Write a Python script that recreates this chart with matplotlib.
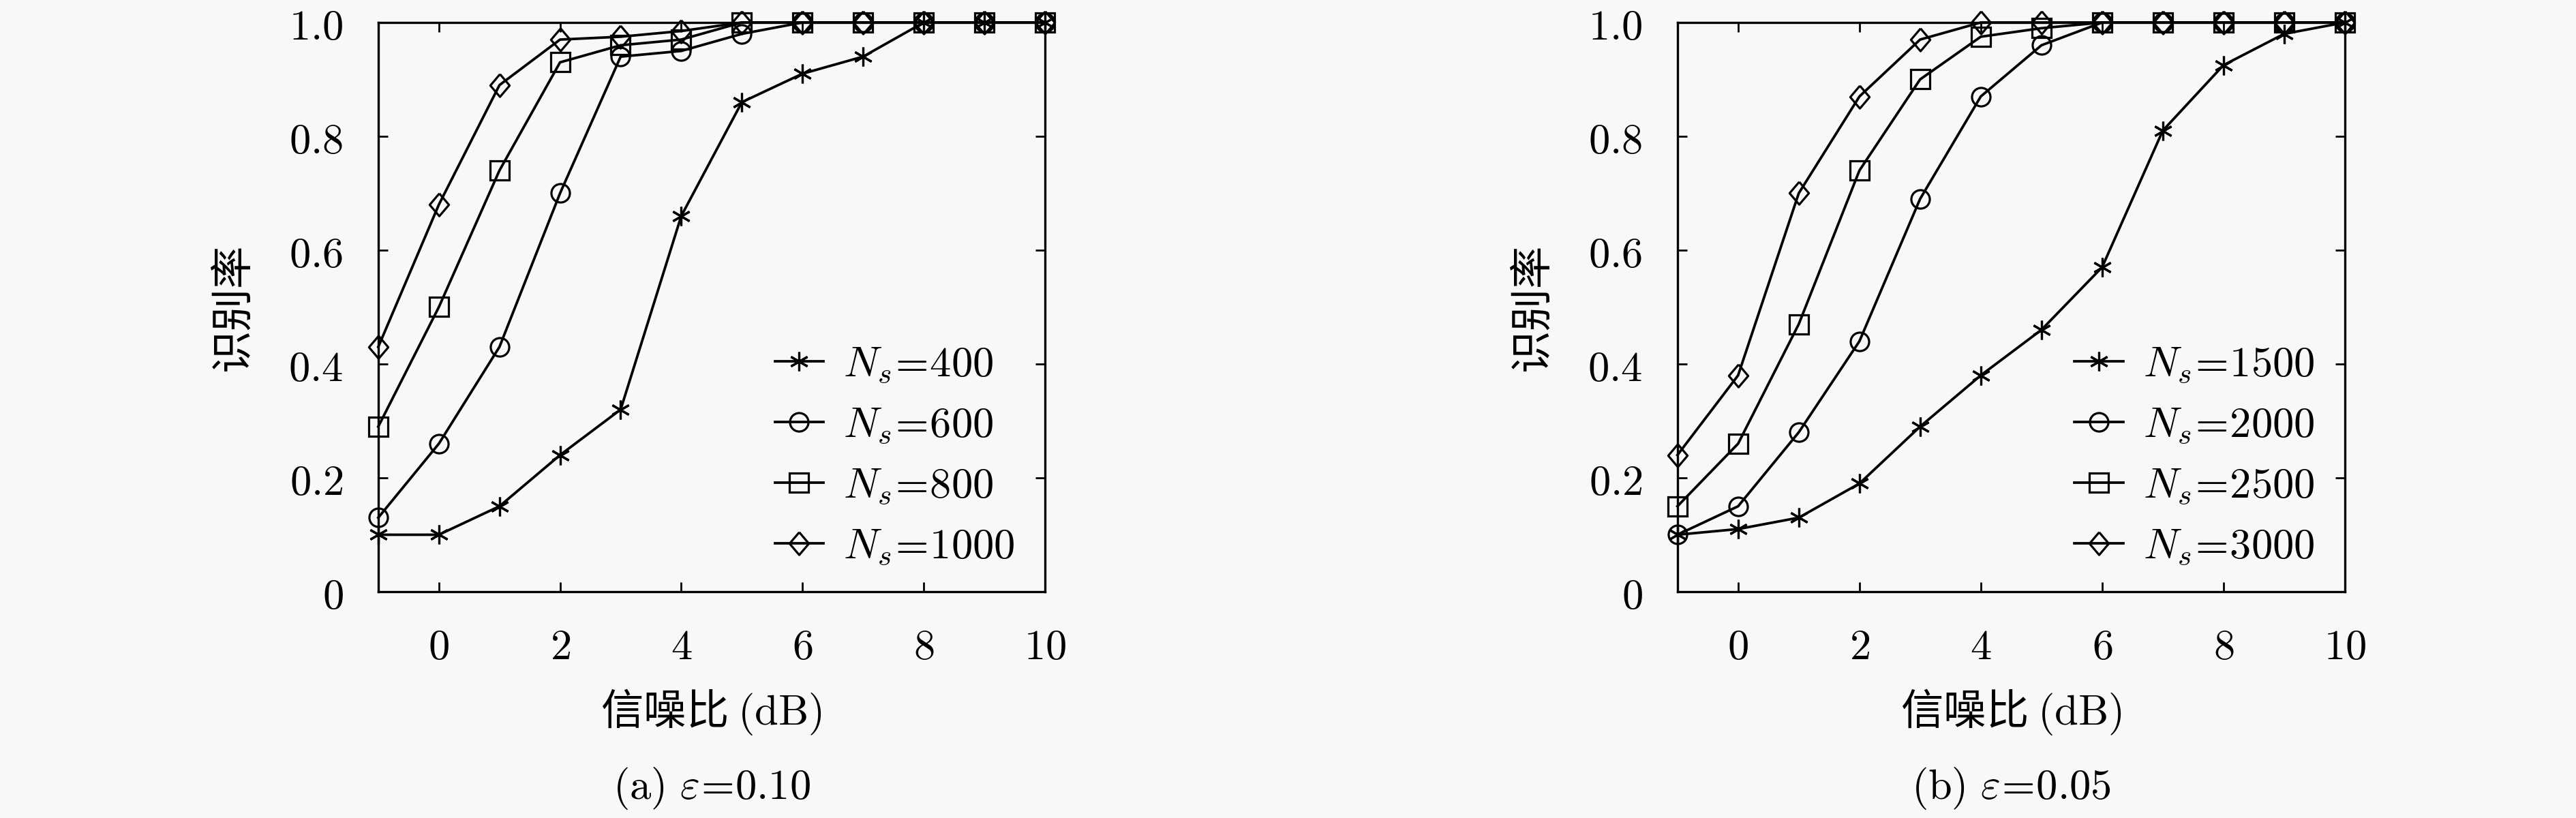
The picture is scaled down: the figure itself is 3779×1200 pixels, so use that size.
import numpy as np
import matplotlib
matplotlib.use('Agg')
import matplotlib.pyplot as plt

plt.rcParams['font.family'] = ['Noto Sans CJK SC', 'DejaVu Sans']
plt.rcParams['mathtext.fontset'] = 'cm'

# 信噪比 (dB)
snr = [-1, 0, 1, 2, 3, 4, 5, 6, 7, 8, 9, 10]

# (a) eps = 0.10
ns_a = [400, 600, 800, 1000]
rate_a_400 = [0.10, 0.10, 0.15, 0.24, 0.32, 0.66, 0.86, 0.91, 0.94, 1.0, 1.0, 1.0]
rate_a_600 = [0.13, 0.26, 0.43, 0.70, 0.94, 0.95, 0.98, 1.0, 1.0, 1.0, 1.0, 1.0]
rate_a_800 = [0.29, 0.50, 0.74, 0.93, 0.96, 0.97, 1.0, 1.0, 1.0, 1.0, 1.0, 1.0]
rate_a_1000 = [0.43, 0.68, 0.89, 0.97, 0.975, 0.985, 1.0, 1.0, 1.0, 1.0, 1.0, 1.0]

# (b) eps = 0.05
ns_b = [1500, 2000, 2500, 3000]
rate_b_1500 = [0.10, 0.11, 0.13, 0.19, 0.29, 0.38, 0.46, 0.57, 0.81, 0.925, 0.98, 1.0]
rate_b_2000 = [0.10, 0.15, 0.28, 0.44, 0.69, 0.87, 0.96, 1.0, 1.0, 1.0, 1.0, 1.0]
rate_b_2500 = [0.15, 0.26, 0.47, 0.74, 0.90, 0.975, 0.99, 1.0, 1.0, 1.0, 1.0, 1.0]
rate_b_3000 = [0.24, 0.38, 0.70, 0.87, 0.97, 1.0, 1.0, 1.0, 1.0, 1.0, 1.0, 1.0]

xticks = [0, 2, 4, 6, 8, 10]
yticks = [0, 0.2, 0.4, 0.6, 0.8, 1.0]
ytick_labels = ['0', '0.2', '0.4', '0.6', '0.8', '1.0']

captions = [r'$(\mathrm{a})\ \varepsilon\!=\!0.10$', r'$(\mathrm{b})\ \varepsilon\!=\!0.05$']

BG = '#f8f8f8'
FS = 45

# 标记样式：星号、圆、方块、菱形
diamond = [(0, 1), (0.85, 0), (0, -1), (-0.85, 0), (0, 1)]
markers = [((6, 2, 0), 20), ('o', 19.5), ('s', 19.5), (diamond, 24)]


def draw_panel(ax, series, ns_list, caption):
    for (mk, ms), ys, ns in zip(markers, series, ns_list):
        ax.plot(snr, ys, color='black', lw=2.7, marker=mk, ms=ms,
                mfc='none', mec='black', mew=2.3, clip_on=False,
                label=r'$N_s\!=\!%d$' % ns)

    ax.set_xlim(-1, 10)
    ax.set_ylim(0, 1.0)
    ax.set_xticks(xticks)
    ax.set_xticklabels([r'$%d$' % v for v in xticks])
    ax.set_yticks(yticks)
    ax.set_yticklabels([r'$%s$' % s for s in ytick_labels])
    ax.tick_params(axis='both', direction='in', length=10, width=2,
                   top=True, right=True, labelsize=FS)
    ax.tick_params(axis='x', pad=35)
    ax.tick_params(axis='y', pad=37)
    for sp in ax.spines.values():
        sp.set_linewidth(2.4)
    ax.set_facecolor(BG)

    ax.set_ylabel('识别率', fontsize=FS, va='center')
    ax.yaxis.set_label_coords(-0.218, 0.5)
    ax.set_xlabel(r'信噪比 $(\mathrm{dB})$', fontsize=FS, va='center')
    ax.xaxis.set_label_coords(0.5, -0.212)
    ax.text(0.5, -0.346, caption, transform=ax.transAxes, ha='center',
            va='center', fontsize=FS)

    ax.legend(loc='center left', bbox_to_anchor=(0.595, 0.2407),
              frameon=False, fontsize=FS, borderpad=0, borderaxespad=0,
              handlelength=1.14, handletextpad=0.47, labelspacing=0.4)


fig = plt.figure(figsize=(37.8, 12), dpi=100, facecolor=BG)
ax1 = fig.add_axes([0.1468, 0.2767, 0.2587, 0.6958])
ax2 = fig.add_axes([0.6510, 0.2767, 0.2590, 0.6958])

draw_panel(ax1, [rate_a_400, rate_a_600, rate_a_800, rate_a_1000], ns_a, captions[0])
draw_panel(ax2, [rate_b_1500, rate_b_2000, rate_b_2500, rate_b_3000], ns_b, captions[1])

fig.savefig('out.png', dpi=100, facecolor=BG)
